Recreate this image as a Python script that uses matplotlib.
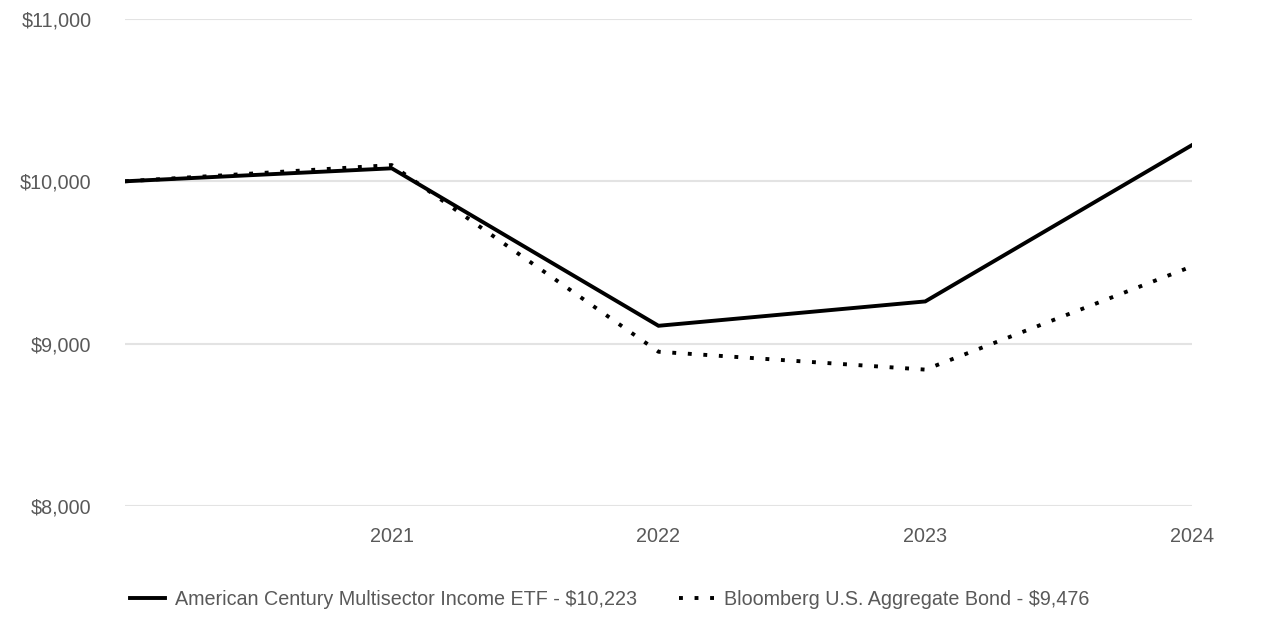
import matplotlib.pyplot as plt
from matplotlib.lines import Line2D

years = ['', '2021', '2022', '2023', '2024']
fund = [10000, 10080, 9110, 9260, 10223]
index = [10000, 10100, 8950, 8840, 9476]
fund_label = 'American Century Multisector Income ETF - $10,223'
index_label = 'Bloomberg U.S. Aggregate Bond - $9,476'
yticks = [8000, 9000, 10000, 11000]

plt.rcParams['font.family'] = ['Liberation Sans Narrow', 'Liberation Sans', 'DejaVu Sans']

fig = plt.figure(figsize=(12.86, 6.32), dpi=100)
ax = fig.add_axes([0.0972, 0.1994, 0.8297, 0.7706])

x = list(range(len(years)))
dots = (0, (1, 3))
ax.plot(x, fund, color='black', lw=2.8, solid_joinstyle='miter', zorder=3)
ax.plot(x, index, color='black', lw=2.8, linestyle=dots,
        dash_capstyle='butt', zorder=3)

ax.set_xlim(0, len(years) - 1)
ax.set_ylim(8000, 11000)
ax.set_yticks(yticks)
ax.set_yticklabels([f'${v:,}' for v in yticks])
ax.set_xticks(x)
ax.set_xticklabels(years)
ax.grid(axis='y', color='#e3e3e3', lw=1.5)
ax.set_axisbelow(True)
for s in ax.spines.values():
    s.set_visible(False)
ax.tick_params(axis='both', length=0, labelsize=14.2, colors='#595959')
ax.tick_params(axis='y', pad=24)
ax.tick_params(axis='x', pad=15)

handles = [
    Line2D([], [], color='black', lw=2.8),
    Line2D([], [], color='black', lw=2.8, linestyle=dots, dash_capstyle='butt'),
]
fig.legend(handles, [fund_label, index_label], loc='center left',
           bbox_to_anchor=(0.101, 0.051), ncol=2, frameon=False,
           fontsize=14.2, labelcolor='#595959', handlelength=1.8,
           handletextpad=0.5, columnspacing=2.1, borderaxespad=0,
           borderpad=0)

fig.savefig('out.png', dpi=100, facecolor='white')
